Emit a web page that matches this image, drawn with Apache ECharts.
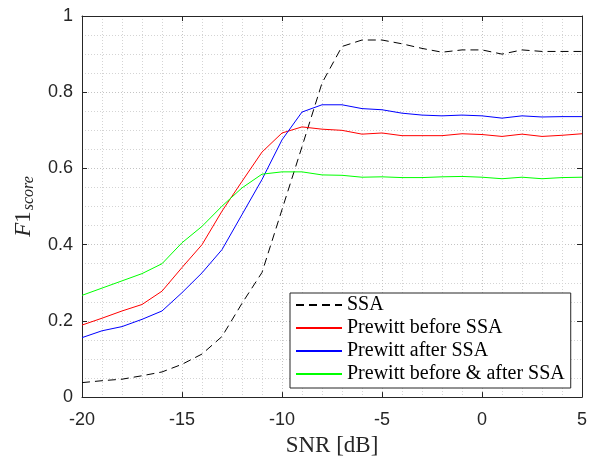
<!DOCTYPE html>
<html>
<head>
<meta charset="utf-8">
<script src="https://cdn.jsdelivr.net/npm/echarts@6/dist/echarts.min.js"></script>
<style>html,body{margin:0;padding:0;background:#fff;}#c{width:596px;height:462px;}</style>
</head>
<body>
<div id="c"></div>
<script>
const snr = [-20,-19,-18,-17,-16,-15,-14,-13,-12,-11,-10,-9,-8,-7,-6,-5,-4,-3,-2,-1,0,1,2,3,4,5];
const ssa = [0.038,0.043,0.047,0.056,0.066,0.086,0.113,0.159,0.246,0.327,0.492,0.657,0.824,0.920,0.937,0.937,0.927,0.915,0.905,0.911,0.911,0.900,0.911,0.907,0.907,0.907];
const prewittBefore = [0.189,0.207,0.226,0.243,0.278,0.340,0.400,0.488,0.566,0.643,0.693,0.709,0.703,0.700,0.690,0.693,0.686,0.686,0.686,0.691,0.689,0.684,0.690,0.684,0.687,0.691];
const prewittAfter = [0.156,0.174,0.185,0.204,0.226,0.274,0.326,0.387,0.479,0.571,0.675,0.748,0.767,0.767,0.757,0.754,0.745,0.740,0.738,0.740,0.738,0.732,0.738,0.735,0.736,0.736];
const prewittBoth = [0.267,0.286,0.305,0.324,0.350,0.405,0.448,0.501,0.549,0.585,0.591,0.591,0.583,0.582,0.577,0.578,0.576,0.576,0.578,0.579,0.577,0.573,0.577,0.573,0.576,0.577];
const seriesNames = ['SSA','Prewitt before SSA','Prewitt after SSA','Prewitt before & after SSA'];
const xTicks = {min:-20, max:5, interval:5};
const yTicks = {min:0, max:1, interval:0.2};

const axisColor = '#262626';
const pair = arr => snr.map((x,i)=>[x,arr[i]]);
const tickFont = {fontFamily:'Liberation Sans, Arial, sans-serif', fontSize:18, color:axisColor};

const chart = echarts.init(document.getElementById('c'), null, {renderer:'canvas'});
const baseAxis = {
  axisLine:{show:true, onZero:false, lineStyle:{color:axisColor, width:1}},
  axisTick:{show:true, inside:true, length:5, lineStyle:{color:axisColor}},
};
chart.setOption({
  animation:false,
  backgroundColor:'#fff',
  grid:{left:82, right:14, top:16, bottom:64, containLabel:false},
  legend:{
    orient:'vertical', left:290, top:293,
    itemWidth:46, itemHeight:14, itemGap:3,
    padding:[2,6,4,5],
    borderColor:axisColor, borderWidth:1, backgroundColor:'#fff',
    itemStyle:{opacity:0},
    textStyle:{fontFamily:'Liberation Serif, Times New Roman, serif', fontSize:20, color:'#000', lineHeight:20},
    data:seriesNames
  },
  xAxis:[
    Object.assign({}, baseAxis, {
      type:'value', position:'bottom', min:xTicks.min, max:xTicks.max, interval:xTicks.interval,
      axisLabel:Object.assign({margin:14}, tickFont),
      splitLine:{show:true, lineStyle:{color:'#c4c4c4', type:[1,2], width:1}},
      minorTick:{show:false, splitNumber:5},
      minorSplitLine:{show:true, lineStyle:{color:'#d4d4d4', type:[1,2], width:1}},
      name:'SNR [dB]', nameLocation:'middle', nameGap:34,
      nameTextStyle:{fontFamily:'Liberation Serif, Times New Roman, serif', fontSize:23, color:axisColor}
    }),
    Object.assign({}, baseAxis, {
      type:'value', position:'top', min:xTicks.min, max:xTicks.max, interval:xTicks.interval,
      axisLabel:{show:false}, splitLine:{show:false}
    })
  ],
  yAxis:[
    Object.assign({}, baseAxis, {
      type:'value', position:'left', min:yTicks.min, max:yTicks.max, interval:yTicks.interval,
      axisLabel:Object.assign({margin:9, formatter: v => (Math.round(v*10)/10).toString()}, tickFont),
      splitLine:{show:true, lineStyle:{color:'#c4c4c4', type:[1,2], width:1}},
      minorTick:{show:false, splitNumber:4},
      minorSplitLine:{show:true, lineStyle:{color:'#d4d4d4', type:[1,2], width:1}},
      name:'{i|F}{r|1}{s|score}', nameLocation:'middle', nameGap:44, nameRotate:90,
      nameTextStyle:{
        color:axisColor,
        rich:{
          i:{fontFamily:'Liberation Serif, serif', fontStyle:'italic', fontSize:23, lineHeight:23, verticalAlign:'top', color:axisColor},
          r:{fontFamily:'Liberation Serif, serif', fontSize:23, lineHeight:23, verticalAlign:'top', color:axisColor},
          s:{fontFamily:'Liberation Serif, serif', fontStyle:'italic', fontSize:16, lineHeight:16, padding:[9,0,0,1], verticalAlign:'top', color:axisColor}
        }
      }
    }),
    Object.assign({}, baseAxis, {
      type:'value', position:'right', min:yTicks.min, max:yTicks.max, interval:yTicks.interval,
      axisLabel:{show:false}, splitLine:{show:false}
    })
  ],
  series:[
    {name:seriesNames[0], type:'line', data:pair(ssa), symbol:'none', lineStyle:{color:'#000', width:1, type:[8,5]}, itemStyle:{color:'#000'}},
    {name:seriesNames[1], type:'line', data:pair(prewittBefore), symbol:'none', lineStyle:{color:'#ff0000', width:1}, itemStyle:{color:'#ff0000'}},
    {name:seriesNames[2], type:'line', data:pair(prewittAfter), symbol:'none', lineStyle:{color:'#0000ff', width:1}, itemStyle:{color:'#0000ff'}},
    {name:seriesNames[3], type:'line', data:pair(prewittBoth), symbol:'none', lineStyle:{color:'#00ff00', width:1}, itemStyle:{color:'#00ff00'}}
  ]
});
</script>
</body>
</html>
